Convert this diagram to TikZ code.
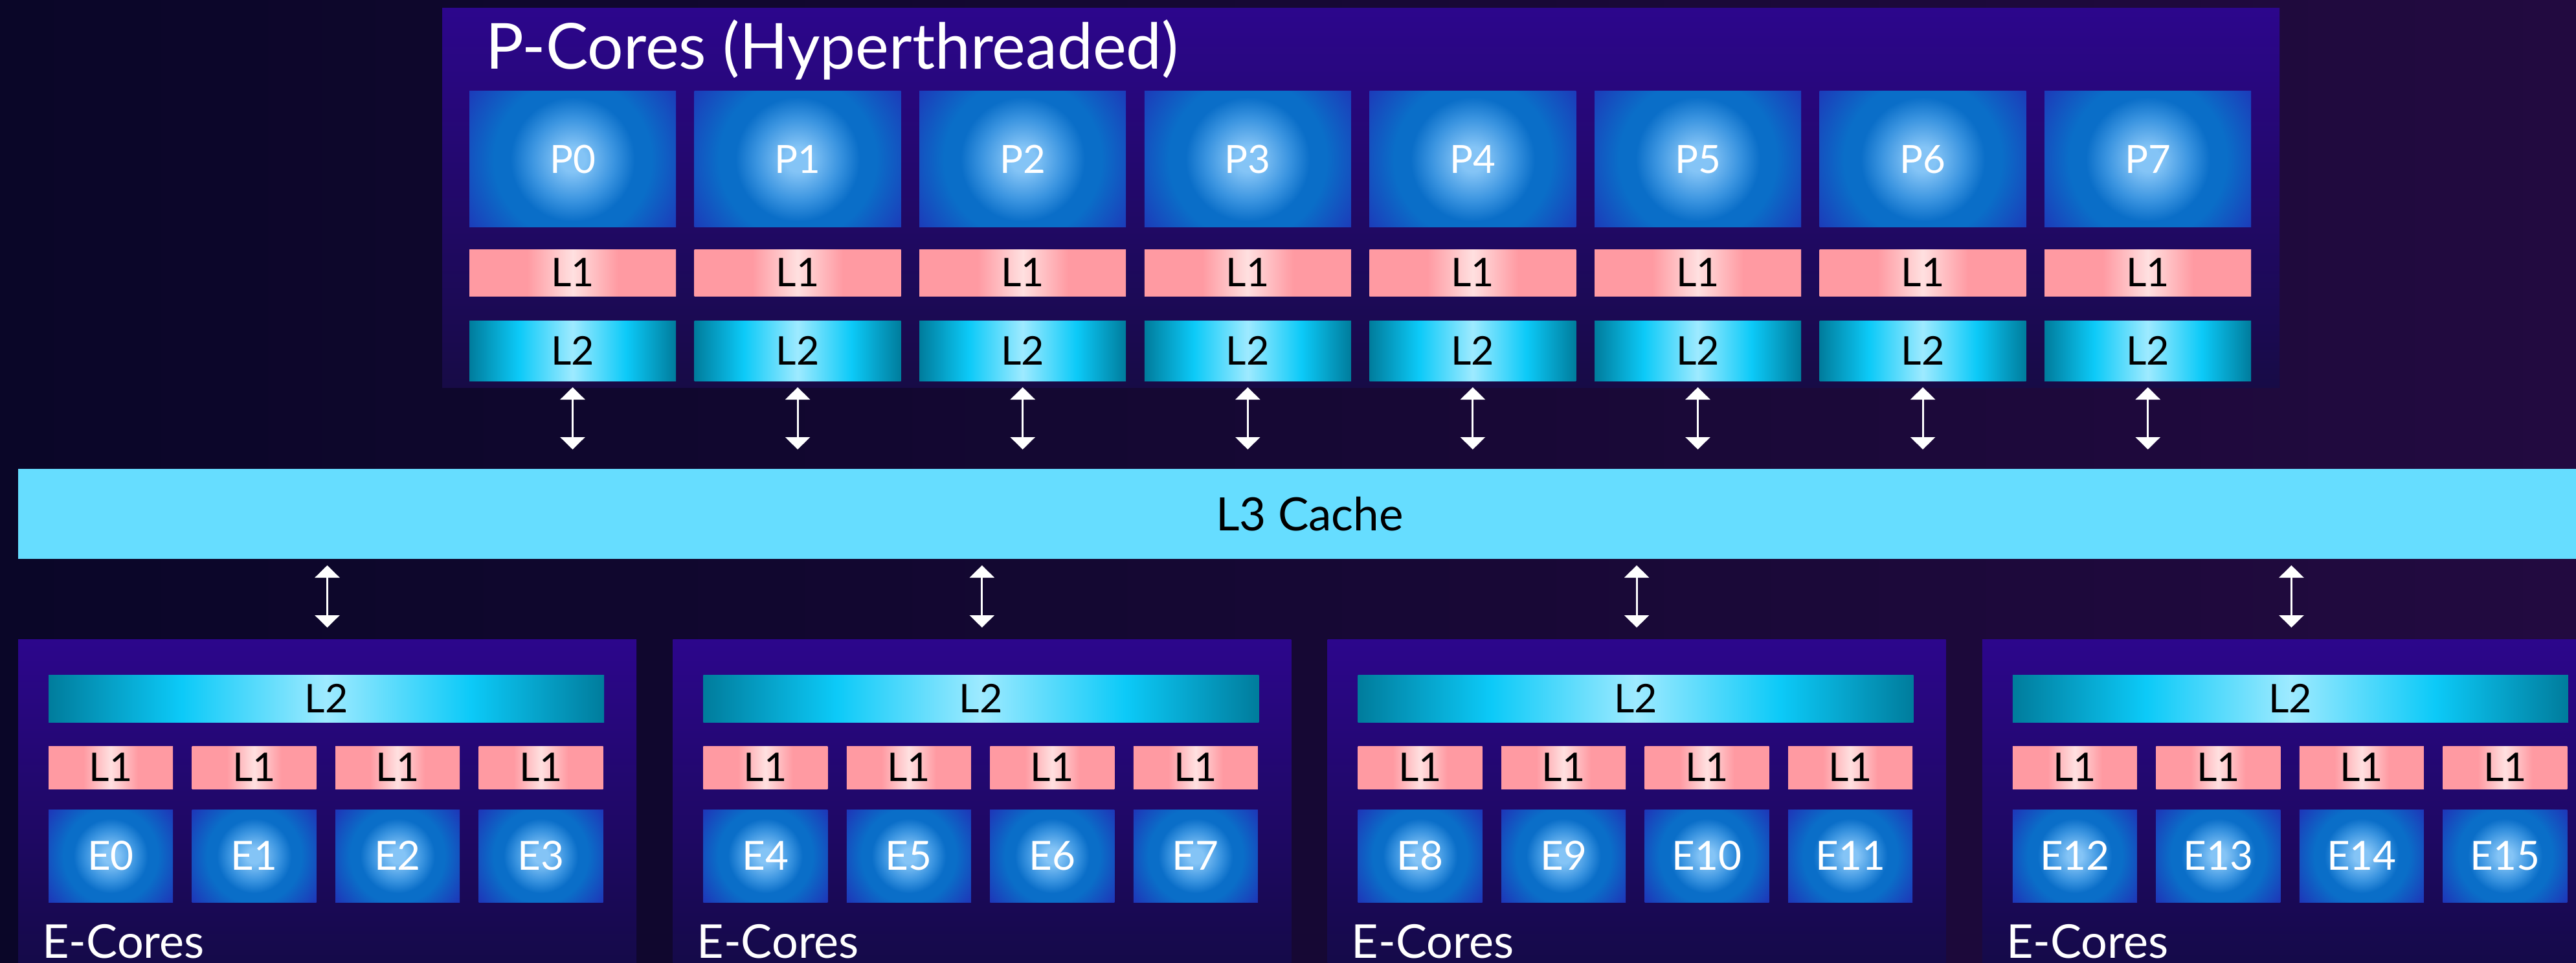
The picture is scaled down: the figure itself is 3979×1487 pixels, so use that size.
\documentclass[tikz,border=0pt]{standalone}
\usepackage{fontspec}
\setmainfont{Lato}
\usetikzlibrary{arrows.meta}
\definecolor{bgL}{HTML}{0A0628}
\definecolor{bgR}{HTML}{220A40}
\definecolor{frTop}{HTML}{2C068C}
\definecolor{frBot}{HTML}{140A46}
\definecolor{pfBot}{HTML}{170B46}
\definecolor{cA}{HTML}{84C4F6}
\definecolor{cB}{HTML}{3A94E0}
\definecolor{cC}{HTML}{0A6EC8}
\definecolor{cD}{HTML}{1452C0}
\definecolor{cE}{HTML}{1E36B8}
\definecolor{pk}{HTML}{FF9AA2}
\definecolor{pkc}{HTML}{FFE0E0}
\definecolor{tq}{HTML}{007C9C}
\definecolor{tqm}{HTML}{0CCAF8}
\definecolor{tqc}{HTML}{9EEAFF}
\definecolor{lthree}{HTML}{66DDFF}
\pgfdeclareradialshading{coreglow}{\pgfpoint{0bp}{0bp}}{color(0bp)=(cA); color(3bp)=(cA); color(10bp)=(cB); color(15bp)=(cC); color(19bp)=(cC); color(25bp)=(cD); color(31bp)=(cE); color(50bp)=(cE)}
\pgfdeclarehorizontalshading{lonefill}{100bp}{color(0bp)=(pk); color(25bp)=(pk); color(39bp)=(pk); color(50bp)=(pkc); color(61bp)=(pk); color(75bp)=(pk); color(100bp)=(pk)}
\pgfdeclarehorizontalshading{ltwofill}{100bp}{color(0bp)=(tq); color(25bp)=(tq); color(37bp)=(tqm); color(50bp)=(tqc); color(63bp)=(tqm); color(75bp)=(tq); color(100bp)=(tq)}
\tikzset{
  boxbase/.style={anchor=north west, inner sep=0pt, outer sep=0pt},
  glow/.style={fill=cE, path picture={\shade[shading=coreglow] ([xshift=-#1pt,yshift=-#1pt]path picture bounding box.center) rectangle ([xshift=#1pt,yshift=#1pt]path picture bounding box.center);}},
  pcorebox/.style={boxbase, glow=160, minimum width=319pt, minimum height=210pt, text=white, font=\fontsize{60}{60}\selectfont},
  ecorebox/.style={boxbase, glow=96, minimum width=192pt, minimum height=143pt, text=white, font=\fontsize{62}{62}\selectfont},
  lonebox/.style={boxbase, shade, shading=lonefill, text=black, font=\fontsize{61}{61}\selectfont},
  ltwobox/.style={boxbase, shade, shading=ltwofill, text=black, font=\fontsize{61}{61}\selectfont},
  frame/.style={boxbase, top color=frTop, bottom color=frBot},
  biarrow/.style={draw=white, line width=3pt, {Triangle[width=38pt,length=19pt]}-{Triangle[width=38pt,length=19pt]}},
  etitle/.style={anchor=base west, inner sep=0pt, text=white, font=\fontsize{72}{72}\selectfont}
}
\begin{document}
\begin{tikzpicture}[x=1pt, y=-1pt]
\useasboundingbox (0,0) rectangle (3979,1487);
\clip (0,0) rectangle (3979,1487);
\fill[left color=bgL, right color=bgR] (0,0) rectangle (3979,1487);
% P-core frame
\node[boxbase, top color=frTop, bottom color=pfBot, minimum width=2838pt, minimum height=585pt] (pf) at (683,13) {};
\node[anchor=base west, inner sep=0pt, text=white, font=\fontsize{98}{98}\selectfont] (title) at (750,107) {P-Cores (Hyperthreaded)};
% L3
\node[boxbase, fill=lthree, minimum width=3990pt, minimum height=139pt, text=black, font=\fontsize{71}{71}\selectfont] (l3) at (28,724) {L3 Cache};
% P cores
\foreach \i in {0,...,7} {
  \pgfmathsetmacro\xx{725+347.6*\i}
  \node[pcorebox] (p\i) at (\xx,141) {P\i};
  \node[lonebox, minimum width=319pt, minimum height=72pt] (pla\i) at (\xx,385) {L1};
  \node[ltwobox, minimum width=319pt, minimum height=93pt] (plb\i) at (\xx,495) {L2};
  \draw[biarrow, shorten <=10pt, shorten >=30pt] (plb\i.south) -- (plb\i.south |- l3.north);
}
% E-core groups
\foreach \k in {0,...,3} {
  \pgfmathsetmacro\fx{28+1011.3*\k}
  \pgfmathsetmacro\cx{\fx+47}
  \node[frame, minimum width=955pt, minimum height=520pt] (ef\k) at (\fx,987) {};
  \node[ltwobox, minimum width=858pt, minimum height=73pt] (elb\k) at (\cx,1042) {L2};
  \foreach \j in {0,...,3} {
    \pgfmathtruncatemacro\n{4*\k+\j}
    \pgfmathsetmacro\jx{\cx+221.5*\j}
    \node[lonebox, minimum width=192pt, minimum height=66pt] (ela\n) at (\jx,1152) {L1};
    \node[ecorebox] (e\n) at (\jx,1250) {E\n};
  }
  \node[etitle] (et\k) at (\fx+37,1479) {E-Cores};
  \draw[biarrow, shorten <=10pt, shorten >=18pt] (ef\k.north |- l3.south) -- (ef\k.north);
}
\end{tikzpicture}
\end{document}
